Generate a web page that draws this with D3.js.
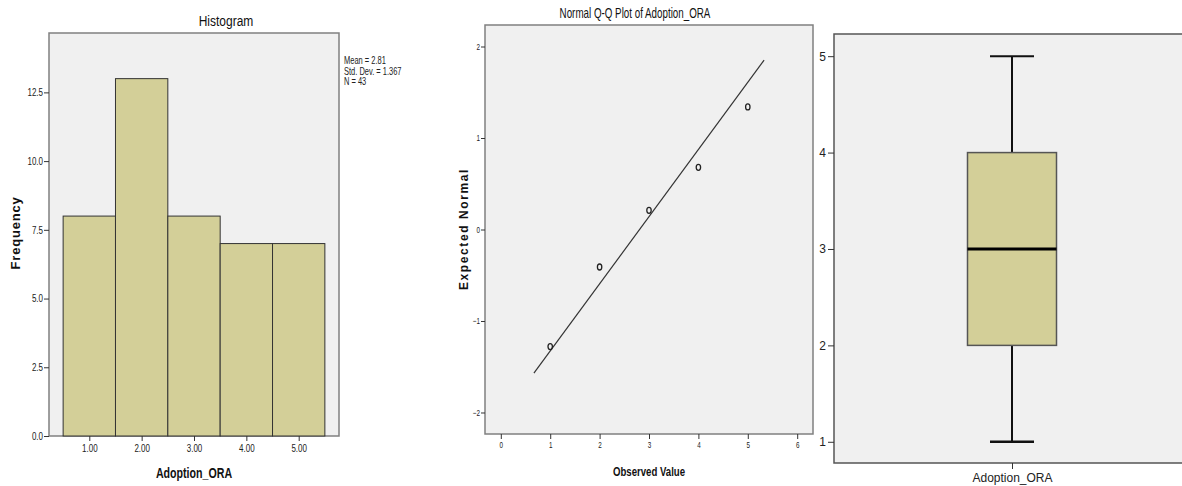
<!DOCTYPE html>
<html>
<head>
<meta charset="utf-8">
<script src="https://cdn.jsdelivr.net/npm/d3@7"></script>
<style>
  body { margin: 0; background: #fff; }
  svg { display: block; font-family: "Liberation Sans", Arial, sans-serif; }
</style>
</head>
<body>
<script>
// histogram data
var histBins = [1, 2, 3, 4, 5];
var histCounts = [8, 13, 8, 7, 7];
var histYTicks = [0, 2.5, 5, 7.5, 10, 12.5];
var histStats = ["Mean = 2.81", "Std. Dev. = 1.367", "N = 43"];

// q-q data
var qqObserved = [1, 2, 3, 4, 5];
var qqExpected = [-1.28, -0.41, 0.21, 0.68, 1.34];
var qqLineX = [0.67, 5.33];
var qqLineY = [-1.57, 1.85];
var qqXTicks = [0, 1, 2, 3, 4, 5, 6];
var qqYTicks = [-2, -1, 0, 1, 2];

// boxplot data
var boxStats = { min: 1, q1: 2, median: 3, q3: 4, max: 5 };
var boxYTicks = [1, 2, 3, 4, 5];
var boxLabel = "Adoption_ORA";

var svg = d3.select('body').append('svg').attr('width', 1182).attr('height', 486);

var frameFill = '#f0f0f0', frameStroke = '#808080', barFill = '#d3cf98';

function styleAxis(g) {
    g.select('.domain').remove();
    g.selectAll('line').attr('stroke', '#333');
    g.selectAll('text').attr('fill', '#222');
}

// narrow text, like the spss "arial narrow" look
function narrowText(txt, x, y, size, sx, extra) {
    return svg.append('text').text(txt)
        .attr('transform', 'translate(' + x + ',' + y + ') ' + (extra || '') + ' scale(' + sx + ',1)')
        .style('font-size', size + 'px').attr('fill', '#111');
}

// squeeze axis tick labels horizontally (keeps their position)
function narrowTicks(g, sx, size) {
    g.selectAll('.tick text').each(function() {
        var t = d3.select(this);
        var x = +t.attr('x') || 0;
        t.attr('x', x / sx).attr('transform', 'scale(' + sx + ',1)').style('font-size', size + 'px');
    });
}

// ---------- Histogram ----------
var hx = d3.scaleLinear().domain([0.23, 5.77]).range([49, 339]);
var hy = d3.scaleLinear().domain([0, 14.66]).range([436, 33]);

svg.append('rect').attr('x', 49).attr('y', 33).attr('width', 290).attr('height', 403)
    .attr('fill', frameFill).attr('stroke', frameStroke).attr('stroke-width', 1.5);

svg.selectAll('.bar').data(histCounts).enter().append('rect')
    .attr('class', 'bar')
    .attr('x', function(d, i){ return hx(histBins[i] - 0.5); })
    .attr('y', function(d){ return hy(d); })
    .attr('width', function(d, i){ return hx(histBins[i] + 0.5) - hx(histBins[i] - 0.5); })
    .attr('height', function(d){ return hy(0) - hy(d); })
    .attr('fill', barFill).attr('stroke', '#333').attr('stroke-width', 1);

svg.append('g').attr('transform', 'translate(49,0)')
    .call(d3.axisLeft(hy).tickValues(histYTicks).tickSize(5).tickPadding(1).tickFormat(d3.format('.1f')))
    .call(styleAxis).call(narrowTicks, 0.8, 10);

svg.append('g').attr('transform', 'translate(0,436)')
    .call(d3.axisBottom(hx).tickValues(histBins).tickSize(5).tickPadding(4).tickFormat(d3.format('.2f')))
    .call(styleAxis).call(narrowTicks, 0.8, 10);

narrowText('Histogram', 226, 26, 15, 0.8).attr('text-anchor', 'middle');
narrowText('Adoption_ORA', 194, 478, 14, 0.76).attr('text-anchor', 'middle').style('font-weight', 'bold');

svg.append('text').text('Frequency').attr('transform', 'translate(20,233) rotate(-90)')
    .attr('text-anchor', 'middle').style('font-size', '13px').style('font-weight', 'bold')
    .style('letter-spacing', '0.8px').attr('fill', '#111');

histStats.forEach(function(s, i) {
    narrowText(s, 344, 64 + i * 10.5, 10, 0.75).attr('fill', '#222');
});

// ---------- Normal Q-Q ----------
var qx = d3.scaleLinear().domain([-0.32, 6.32]).range([485, 813]);
var qy = d3.scaleLinear().domain([-2.235, 2.235]).range([434, 25]);

svg.append('rect').attr('x', 485).attr('y', 25).attr('width', 328).attr('height', 409)
    .attr('fill', frameFill).attr('stroke', frameStroke).attr('stroke-width', 1.5);

svg.append('g').attr('transform', 'translate(485,0)')
    .call(d3.axisLeft(qy).tickValues(qqYTicks).tickSize(4).tickPadding(1).tickFormat(d3.format('d')))
    .call(styleAxis).call(narrowTicks, 0.7, 9);

svg.append('g').attr('transform', 'translate(0,434)')
    .call(d3.axisBottom(qx).tickValues(qqXTicks).tickSize(5).tickPadding(3).tickFormat(d3.format('d')))
    .call(styleAxis).call(narrowTicks, 0.7, 9);

var qline = d3.line().x(function(d){ return qx(d[0]); }).y(function(d){ return qy(d[1]); });
svg.append('path').datum(d3.zip(qqLineX, qqLineY)).attr('d', qline)
    .attr('fill', 'none').attr('stroke', '#333').attr('stroke-width', 1.2);

svg.selectAll('.qpt').data(qqObserved).enter().append('ellipse')
    .attr('class', 'qpt')
    .attr('cx', function(d){ return qx(d); })
    .attr('cy', function(d, i){ return qy(qqExpected[i]); })
    .attr('rx', 2.2).attr('ry', 3)
    .attr('fill', 'none').attr('stroke', '#222').attr('stroke-width', 1.3);

narrowText('Normal Q-Q Plot of Adoption_ORA', 635, 18, 14, 0.7).attr('text-anchor', 'middle');
narrowText('Observed Value', 649, 476, 13, 0.74).attr('text-anchor', 'middle').style('font-weight', 'bold');

svg.append('text').text('Expected Normal').attr('transform', 'translate(468,229) rotate(-90)')
    .attr('text-anchor', 'middle').style('font-size', '12px').style('font-weight', 'bold')
    .style('letter-spacing', '1.6px').attr('fill', '#111');

// ---------- Boxplot ----------
var by = d3.scaleLinear().domain([0.78, 5.23]).range([463, 34]);
var bc = 1012, bw = 89, capW = 44;

svg.append('rect').attr('x', 834).attr('y', 34).attr('width', 400).attr('height', 429)
    .attr('fill', frameFill).attr('stroke', '#555').attr('stroke-width', 1.5);

svg.append('g').attr('transform', 'translate(834,0)')
    .call(d3.axisLeft(by).tickValues(boxYTicks).tickSize(6).tickPadding(2).tickFormat(d3.format('d')))
    .call(styleAxis).selectAll('text').style('font-size', '12px');

var boxAxis = svg.append('g').attr('transform', 'translate(0,463)')
    .call(d3.axisBottom(d3.scalePoint().domain([boxLabel]).range([bc, bc])).tickSize(6).tickPadding(4))
    .call(styleAxis);
boxAxis.selectAll('text').style('font-size', '12px');

// whiskers
svg.append('line').attr('x1', bc).attr('x2', bc).attr('y1', by(boxStats.q3)).attr('y2', by(boxStats.max))
    .attr('stroke', '#111').attr('stroke-width', 2);
svg.append('line').attr('x1', bc).attr('x2', bc).attr('y1', by(boxStats.q1)).attr('y2', by(boxStats.min))
    .attr('stroke', '#111').attr('stroke-width', 2);
svg.append('line').attr('x1', bc - capW / 2).attr('x2', bc + capW / 2).attr('y1', by(boxStats.max)).attr('y2', by(boxStats.max))
    .attr('stroke', '#111').attr('stroke-width', 2);
svg.append('line').attr('x1', bc - capW / 2).attr('x2', bc + capW / 2).attr('y1', by(boxStats.min)).attr('y2', by(boxStats.min))
    .attr('stroke', '#111').attr('stroke-width', 2.5);

svg.append('rect').attr('x', bc - bw / 2).attr('y', by(boxStats.q3))
    .attr('width', bw).attr('height', by(boxStats.q1) - by(boxStats.q3))
    .attr('fill', barFill).attr('stroke', '#555').attr('stroke-width', 1.5);

svg.append('line').attr('x1', bc - bw / 2).attr('x2', bc + bw / 2).attr('y1', by(boxStats.median)).attr('y2', by(boxStats.median))
    .attr('stroke', '#000').attr('stroke-width', 3);
</script>
</body>
</html>
